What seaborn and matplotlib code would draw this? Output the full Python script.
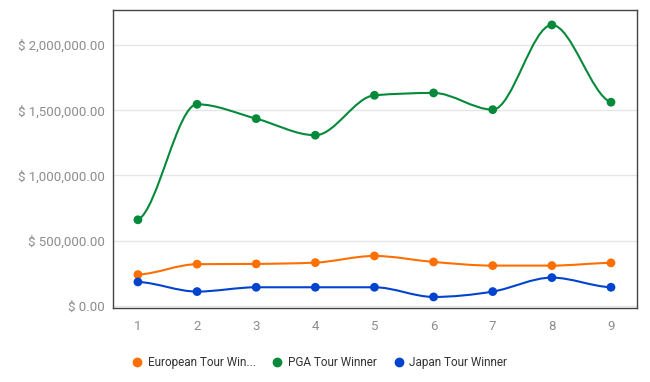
import numpy as np
import pandas as pd
import matplotlib
matplotlib.use("Agg")
import matplotlib.pyplot as plt
from matplotlib.path import Path
from matplotlib.patches import PathPatch
from matplotlib.lines import Line2D
from matplotlib.ticker import FuncFormatter
import seaborn as sns

# data
years = [1, 2, 3, 4, 5, 6, 7, 8, 9]
european = [240000, 320000, 322000, 332000, 383000, 337000, 309000, 309000, 330000]
pga = [660000, 1545000, 1435000, 1308000, 1614000, 1632000, 1504000, 2153000, 1561000]
japan = [184000, 110000, 143000, 143000, 143000, 69000, 110000, 217000, 143000]
series_names = ["European Tour Winner", "PGA Tour Winner", "Japan Tour Winner"]
legend_labels = ["European Tour Win...", "PGA Tour Winner", "Japan Tour Winner"]
colors = ["#ff6f00", "#05893a", "#0043ce"]

df = pd.DataFrame({
    "x": years * 3,
    "value": european + pga + japan,
    "series": sum([[n] * len(years) for n in series_names], []),
})


def monotone_path(xs, ys):
    # monotone cubic as bezier segments, nearly flat at the ends
    xs = np.asarray(xs, float)
    ys = np.asarray(ys, float)
    n = len(xs)
    h = np.diff(xs)
    s = np.diff(ys) / h
    t = np.zeros(n)
    for i in range(1, n - 1):
        if s[i - 1] * s[i] > 0:
            p = (s[i - 1] * h[i] + s[i] * h[i - 1]) / (h[i - 1] + h[i])
            t[i] = np.sign(s[i - 1]) * min(abs(s[i - 1]), abs(s[i]), 0.5 * abs(p)) * 2
    t[0] = 0.25 * s[0]
    t[-1] = 0.25 * s[-1]
    verts = [(xs[0], ys[0])]
    codes = [Path.MOVETO]
    for i in range(n - 1):
        dx = h[i] / 3
        verts += [(xs[i] + dx, ys[i] + dx * t[i]),
                  (xs[i + 1] - dx, ys[i + 1] - dx * t[i + 1]),
                  (xs[i + 1], ys[i + 1])]
        codes += [Path.CURVE4] * 3
    return Path(verts, codes)


sns.set_style("white")
plt.rcParams["font.family"] = ["Roboto", "DejaVu Sans"]

fig = plt.figure(figsize=(6.5, 3.82), dpi=100)
ax = fig.add_axes([0.174, 0.194, 0.806, 0.780])

for name, col in zip(series_names, colors):
    sub = df[df["series"] == name]
    ax.add_patch(PathPatch(monotone_path(sub["x"], sub["value"]), facecolor="none",
                           edgecolor=col, lw=1.5, zorder=2))

sns.scatterplot(data=df, x="x", y="value", hue="series", palette=colors,
                s=40, edgecolor="none", legend=False, ax=ax, zorder=3)

ax.set_xlim(0.58, 9.44)
ax.set_ylim(-15000, 2268000)
ax.set_xticks(years)
ax.set_yticks([0, 500000, 1000000, 1500000, 2000000])
ax.yaxis.set_major_formatter(FuncFormatter(lambda v, p: "$ {:,.2f}".format(v)))
ax.set_xlabel("")
ax.set_ylabel("")
ax.grid(axis="y", color="#e6e6e6", lw=1)
ax.set_axisbelow(True)
ax.tick_params(axis="both", length=0, labelsize=9.5, labelcolor="#8c8c8c")
ax.tick_params(axis="y", pad=6)
ax.tick_params(axis="x", pad=9)
for sp in ax.spines.values():
    sp.set_color("#444444")
    sp.set_linewidth(1)

handles = [Line2D([], [], marker="o", ls="none", color=c, markersize=6) for c in colors]
fig.legend(handles, legend_labels, loc="center left", bbox_to_anchor=(0.187, 0.05),
           ncol=3, frameon=False, fontsize=8.5, handlelength=0.8, handletextpad=0.5,
           columnspacing=1.45, labelcolor="#333333")

fig.savefig("out.png", dpi=100)
